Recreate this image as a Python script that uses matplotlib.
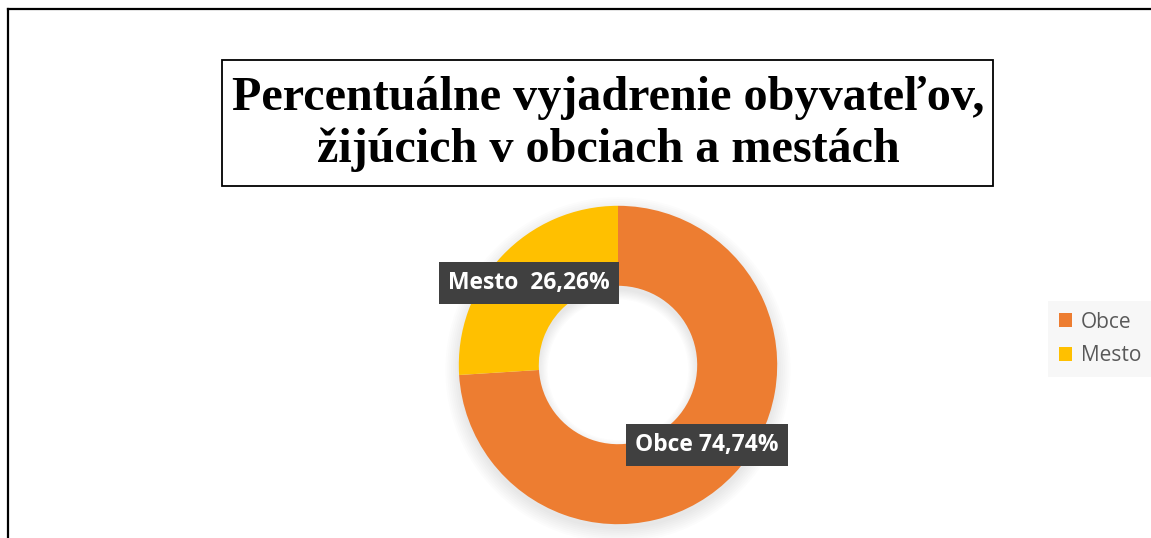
import matplotlib.pyplot as plt
from matplotlib.patches import Patch, Rectangle, Wedge
from matplotlib.lines import Line2D

categories = ["Obce", "Mesto"]
values = [74.74, 26.26]
value_labels = ["Obce 74,74%", "Mesto  26,26%"]
colors = ["#ED7D31", "#FFC000"]

title = "Percentuálne vyjadrenie obyvateľov,\nžijúcich v obciach a mestách"

W, H = 1151, 538


def main():
    fig = plt.figure(figsize=(W / 100, H / 100), dpi=100)
    fig.patch.set_facecolor("white")

    # outer frame (only top and left edges visible in the crop)
    fig.add_artist(Line2D([8 / W, 1], [1 - 9 / H, 1 - 9 / H], color="black", lw=1.6,
                          transform=fig.transFigure))
    fig.add_artist(Line2D([8 / W, 8 / W], [0, 1 - 9 / H], color="black", lw=1.6,
                          transform=fig.transFigure))

    # title with a box
    fig.add_artist(Rectangle((222 / W, 1 - 186 / H), (993 - 222) / W, (186 - 60) / H,
                             fill=False, edgecolor="black", lw=1.3,
                             transform=fig.transFigure))
    fig.text(608 / W, 1 - 124 / H, title, ha="center", va="center",
             fontsize=34.7, fontweight="bold", family="Liberation Serif",
             linespacing=1.2, color="black")

    # donut
    cx, cy, r = 618, 365, 160
    ax = fig.add_axes([(cx - r) / W, (H - cy - r) / H, 2 * r / W, 2 * r / H])
    ax.set_xlim(-1, 1)
    ax.set_ylim(-1, 1)
    ax.set_aspect("equal")
    ax.axis("off")

    # soft shadow
    for i in range(8):
        ax.add_patch(Wedge((0.0, -0.03), 0.995 + i * 0.012, 0, 360, width=0.5 + i * 0.02,
                           facecolor="black", alpha=0.012, lw=0, clip_on=False))

    wedges, _ = ax.pie(values, colors=colors, startangle=90, counterclock=False,
                       radius=0.995, wedgeprops=dict(width=0.5, edgecolor="none"))
    for w in wedges:
        w.set_clip_on(False)
    ax.set_xlim(-1, 1)
    ax.set_ylim(-1, 1)

    label_pos = [(0.555, -0.5), (-0.555, 0.513)]
    for (x, y), txt in zip(label_pos, value_labels):
        ax.text(x, y, txt, ha="center", va="center", color="white",
                fontsize=16.5, fontweight="bold", family="Open Sans",
                bbox=dict(boxstyle="square,pad=0.4", facecolor="#404040",
                          edgecolor="none"), zorder=5)

    handles = [Patch(facecolor=c, edgecolor="none") for c in colors]
    leg = fig.legend(handles, categories, loc="center left",
                     bbox_to_anchor=(1038 / W, 1 - 339 / H), frameon=True,
                     facecolor="#f7f7f7", edgecolor="none", framealpha=1,
                     prop=dict(family="Open Sans", size=15), handlelength=0.65,
                     handleheight=0.65, handletextpad=0.4, labelspacing=0.6,
                     borderpad=0.5, fancybox=False)
    for t in leg.get_texts():
        t.set_color("#595959")

    fig.savefig("out.png", dpi=100)


if __name__ == "__main__":
    main()
